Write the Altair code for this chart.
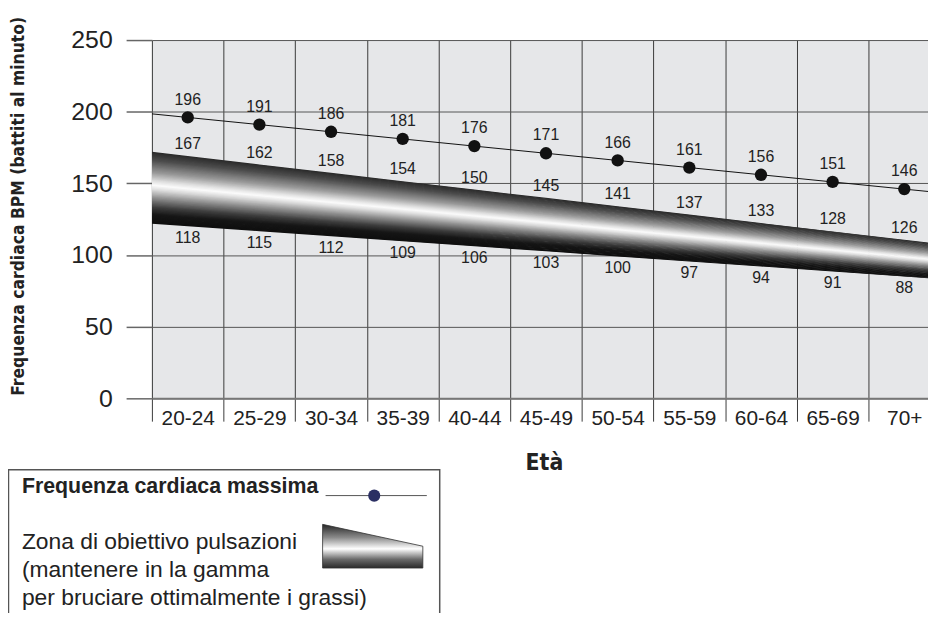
import altair as alt
import pandas as pd

# ---------------- data ----------------
categories = ["20-24", "25-29", "30-34", "35-39", "40-44", "45-49",
              "50-54", "55-59", "60-64", "65-69", "70+"]
max_hr = [196, 191, 186, 181, 176, 171, 166, 161, 156, 151, 146]
zone_upper = [167, 162, 158, 154, 150, 145, 141, 137, 133, 128, 126]
zone_lower = [118, 115, 112, 109, 106, 103, 100, 97, 94, 91, 88]
# drawn edges of the target-zone band, read at each column centre
band_top = [169.1, 163.2, 157.4, 151.5, 145.7, 139.9, 134.0, 128.2, 122.3, 116.5, 110.6]
band_bottom = [120.1, 116.6, 113.1, 109.6, 106.1, 102.6, 99.0, 95.5, 92.0, 88.5, 85.0]
# band and max-HR line where they meet the outer column borders
band_top_ends = [172.0, 107.7]
band_bottom_ends = [121.9, 83.2]
max_line_ends = [198.5, 143.5]
y_ticks = [0, 50, 100, 150, 200, 250]

FONT = "Liberation Sans"
NARROW = "Liberation Sans Narrow, DejaVu Sans Condensed, sans-serif"

n = len(categories)
pos = [i + 0.5 for i in range(n)]
edge_pos = [0] + pos + [n]

pts = pd.DataFrame({"pos": pos, "cat": categories, "max": max_hr,
                    "up": zone_upper, "lo": zone_lower,
                    "btop": band_top, "bbot": band_bottom})
line_df = pd.DataFrame({"pos": edge_pos,
                        "v": [max_line_ends[0]] + max_hr + [max_line_ends[1]]})

# shaded band, drawn as thin strips between the two edges
tops = [band_top_ends[0]] + band_top + [band_top_ends[1]]
bots = [band_bottom_ends[0]] + band_bottom + [band_bottom_ends[1]]
stops = [(0.0, 40), (0.12, 75), (0.30, 155), (0.42, 228), (0.47, 252),
         (0.53, 222), (0.65, 140), (0.78, 60), (0.88, 22), (1.0, 15)]


def gray(t):
    for (t0, g0), (t1, g1) in zip(stops[:-1], stops[1:]):
        if t0 <= t <= t1:
            g = g0 + (g1 - g0) * (t - t0) / (t1 - t0)
            g = int(round(g))
            return "#%02x%02x%02x" % (g, g, g)
    return "#111111"


N = 60
rows = []
for k in range(N):
    a = max(0.0, k / N - 0.4 / N)
    b = min(1.0, (k + 1) / N + 0.4 / N)
    col = gray((k + 0.5) / N)
    for xp, tp, bt in zip(edge_pos, tops, bots):
        rows.append({"pos": xp, "strip": k, "col": col,
                     "y0": tp + (bt - tp) * a, "y1": tp + (bt - tp) * b})
strips = pd.DataFrame(rows)

# ---------------- scales / axes ----------------
W, H = 782, 361
COLW = 72.2
xs = alt.Scale(domain=[0, W / COLW], nice=False, zero=False)
ys = alt.Scale(domain=[0, 250], nice=False, zero=False)

cat_js = "[" + ",".join("'%s'" % c for c in categories) + "]"
is_border = "datum.value % 1 === 0"
label_expr = "%s ? '' : %s[floor(datum.value)]" % (is_border, cat_js)
x_values = sorted([float(i) for i in range(n + 1)] + pos)

x_axis = alt.Axis(values=x_values, labelExpr=label_expr,
                  grid=True, gridColor="#3a3a3a", gridWidth=1,
                  gridOpacity={"condition": {"test": is_border, "value": 1}, "value": 0},
                  tickSize=23, tickColor="#3a3a3a", tickWidth=1,
                  tickOpacity={"condition": {"test": is_border, "value": 1}, "value": 0},
                  domain=True, domainColor="#777", domainWidth=2,
                  labelFontSize=21, labelFont=FONT, labelColor="#222",
                  labelPadding=-14, labelFlush=False, labelOverlap=False,
                  title="Età", titleFont=NARROW, titleFontSize=23,
                  titleFontWeight="bold", titleColor="#222", titleX=395,
                  titleY=72, titleBaseline="alphabetic")
y_axis = alt.Axis(values=y_ticks, tickSize=26, tickColor="#666", tickWidth=1.5,
                  labelFontSize=25, labelFont=FONT, labelPadding=14,
                  labelColor="#222", grid=True, gridColor="#555", gridWidth=1,
                  domain=False,
                  title="Frequenza cardiaca BPM (battiti al minuto)",
                  titleFont=NARROW, titleFontSize=17.5, titleFontWeight="bold",
                  titleColor="#222", titleX=-134, titleY=167, titleAngle=270,
                  titleBaseline="middle", titleAlign="center")


def X(field):
    return alt.X(field, scale=xs, axis=x_axis)


def Y(field):
    return alt.Y(field, scale=ys, axis=y_axis)


band = alt.Chart(strips).mark_area(clip=True, interpolate="linear").encode(
    x=X("pos:Q"), y=Y("y0:Q"), y2="y1:Q",
    color=alt.Color("col:N", scale=None),
    detail="strip:N",
)

hr_line = alt.Chart(line_df).mark_line(clip=True, color="#111", strokeWidth=1).encode(
    x=X("pos:Q"), y=Y("v:Q"))

dots = alt.Chart(pts).mark_circle(size=155, color="#111", opacity=1).encode(
    x=X("pos:Q"), y=Y("max:Q"))

lab_max = alt.Chart(pts).mark_text(font=FONT, fontSize=16, color="#222",
                                   baseline="middle", dy=-18).encode(
    x=X("pos:Q"), y=Y("max:Q"), text="max:Q")
lab_up = alt.Chart(pts).mark_text(font=FONT, fontSize=16, color="#222",
                                  baseline="middle", dy=-12).encode(
    x=X("pos:Q"), y=Y("btop:Q"), text="up:Q")
lab_lo = alt.Chart(pts).mark_text(font=FONT, fontSize=16, color="#222",
                                  baseline="middle", dy=12).encode(
    x=X("pos:Q"), y=Y("bbot:Q"), text="lo:Q")

# ---------------- legend box ----------------
one = pd.DataFrame({"a": [0]})
leg_box = alt.Chart(one).mark_rect(fill="white", fillOpacity=0, stroke="#555",
                                   strokeWidth=1.5).encode(
    x=alt.value(-144.5), x2=alt.value(290), y=alt.value(433), y2=alt.value(700))
leg_t1 = alt.Chart(one).mark_text(text="Frequenza cardiaca massima", font=FONT,
                                  fontSize=21.5, fontWeight="bold", color="#222",
                                  align="left", baseline="alphabetic").encode(
    x=alt.value(-131), y=alt.value(456))
leg_rule = alt.Chart(one).mark_rule(color="#555", strokeWidth=1).encode(
    x=alt.value(175), x2=alt.value(277), y=alt.value(459))
leg_dot = alt.Chart(one).mark_circle(size=150, color="#2b2f63", opacity=1).encode(
    x=alt.value(224), y=alt.value(459))
leg_t2 = alt.Chart(one).mark_text(
    text="Zona di obiettivo pulsazioni\n(mantenere in la gamma\nper bruciare ottimalmente i grassi)",
    lineBreak="\n", lineHeight=28, font=FONT, fontSize=23, color="#222",
    align="left", baseline="alphabetic").encode(
    x=alt.value(-131), y=alt.value(513))
wedge_path = "M -1 -0.4356 L 1 0 L 1 0.4356 L -1 0.4356 Z"
wedge = alt.Chart(one).mark_point(
    shape=wedge_path, size=101 * 101, filled=True, opacity=1,
    fill=alt.Gradient(gradient="linear", x1=0, y1=0, x2=0, y2=1,
                      stops=[alt.GradientStop(offset=0, color="#262626"),
                             alt.GradientStop(offset=0.3, color="#8a8a8a"),
                             alt.GradientStop(offset=0.56, color="#ffffff"),
                             alt.GradientStop(offset=0.8, color="#6a6a6a"),
                             alt.GradientStop(offset=1, color="#2a2a2a")]),
    stroke="#333", strokeWidth=0.8).encode(
    x=alt.value(222.5), y=alt.value(510))

chart = alt.layer(band, hr_line, dots, lab_max, lab_up, lab_lo,
                  leg_box, leg_t1, leg_rule, leg_dot, leg_t2, wedge).properties(
    width=W, height=H, background="white",
    autosize=alt.AutoSizeParams(type="none"),
    padding={"left": 145, "top": 30, "right": 0, "bottom": 214},
).configure_view(fill="#e6e7e9", stroke=None)

chart.save("out.html", embed_options={"renderer": "svg", "actions": False})
